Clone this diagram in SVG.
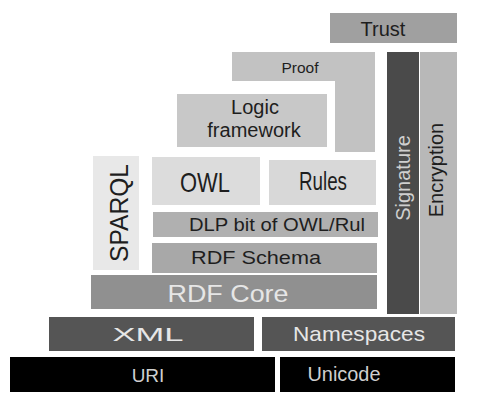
<svg xmlns="http://www.w3.org/2000/svg" width="498" height="413" viewBox="0 0 498 413">
<style>
text{font-family:"Liberation Sans",Arial,sans-serif;text-anchor:middle;fill:#1e1e1e}
.w{fill:#e6e6e6}
.g{fill:#cfcfcf}
</style>
<rect width="498" height="413" fill="#fff"/>
<g id="trust"><rect x="330" y="13" width="127" height="30" fill="#a0a0a0"/><text x="383" y="36" font-size="20">Trust</text></g>
<g id="proof"><polygon points="232,52 375,52 375,152 335,152 335,81 232,81" fill="#c2c2c2"/><text x="300" y="73" font-size="15.5">Proof</text></g>
<g id="logic"><rect x="177" y="94" width="150" height="53" fill="#c8c8c8"/><text x="255" y="114" font-size="20">Logic</text><text x="254" y="137" font-size="20">framework</text></g>
<g id="signature"><rect x="387" y="52" width="32" height="262" fill="#4a4a4a"/><text class="g" transform="translate(410,178) rotate(-90)" font-size="20">Signature</text></g>
<g id="encryption"><rect x="420" y="52" width="37" height="262" fill="#b8b8b8"/><text transform="translate(443,170) rotate(-90)" font-size="20">Encryption</text></g>
<g id="sparql"><rect x="93" y="156" width="46" height="114" fill="#e8e8e8"/><text transform="translate(128,213) rotate(-90)" font-size="26" textLength="98" lengthAdjust="spacingAndGlyphs">SPARQL</text></g>
<g id="owl"><rect x="152" y="157" width="108" height="48" fill="#dcdcdc"/><text x="205" y="192" font-size="28" textLength="50" lengthAdjust="spacingAndGlyphs">OWL</text></g>
<g id="rules"><rect x="269" y="160" width="107" height="45" fill="#d8d8d8"/><text x="323" y="190" font-size="25" textLength="48" lengthAdjust="spacingAndGlyphs">Rules</text></g>
<g id="dlp"><rect x="153" y="212" width="225" height="25" fill="#b0b0b0"/><text x="277" y="231" font-size="19" textLength="176" lengthAdjust="spacingAndGlyphs">DLP bit of OWL/Rul</text></g>
<g id="rdfschema"><rect x="152" y="243" width="225" height="30" fill="#a8a8a8"/><text x="256" y="264" font-size="19" textLength="130" lengthAdjust="spacingAndGlyphs">RDF Schema</text></g>
<g id="rdfcore"><rect x="91" y="275" width="286" height="34" fill="#909090"/><text class="w" x="228" y="302" font-size="23" textLength="121" lengthAdjust="spacingAndGlyphs">RDF Core</text></g>
<g id="xml"><rect x="49" y="317" width="205" height="34" fill="#555"/><text class="w" x="148" y="341" font-size="19" textLength="71" lengthAdjust="spacingAndGlyphs">XML</text></g>
<g id="namespaces"><rect x="262" y="317" width="193" height="34" fill="#555"/><text class="w" x="359" y="341" font-size="21" textLength="132" lengthAdjust="spacingAndGlyphs">Namespaces</text></g>
<g id="uri"><rect x="10" y="357" width="265" height="35" fill="#000"/><text class="g" x="148" y="382" font-size="19">URI</text></g>
<g id="unicode"><rect x="280" y="357" width="175" height="35" fill="#000"/><text class="g" x="344" y="381" font-size="20" textLength="73" lengthAdjust="spacingAndGlyphs">Unicode</text></g>
<g id="connectors"/>
</svg>
